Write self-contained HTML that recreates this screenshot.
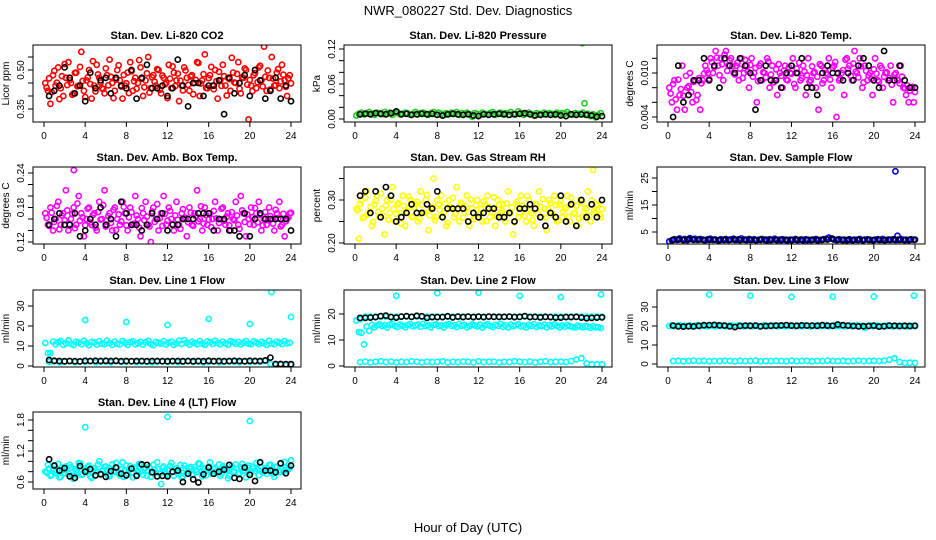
<!DOCTYPE html>
<html><head><meta charset="utf-8"><style>
html,body{margin:0;padding:0;background:#fff;}
svg{display:block;font-family:"Liberation Sans",Arial,sans-serif;}
</style></head><body>
<svg id="chart" width="936" height="540" viewBox="0 0 936 540" xmlns="http://www.w3.org/2000/svg">
<text x="468" y="15" text-anchor="middle" font-size="13">NWR_080227  Std. Dev. Diagnostics</text>
<text x="468" y="532" text-anchor="middle" font-size="13">Hour of Day (UTC)</text>
</svg>
<script>
const co2Red=[0.45,0.42,0.37,0.48,0.44,0.51,0.43,0.40,0.47,0.53,0.45,0.41,0.49,0.44,0.57,0.42,0.46,0.50,0.39,0.44,0.52,0.47,0.43,0.41,0.48,0.54,0.45,0.42,0.50,0.46,0.39,0.44,0.49,0.53,0.42,0.47,0.45,0.51,0.40,0.46,0.55,0.43,0.48,0.44,0.50,0.41,0.47,0.45,0.52,0.43,0.49,0.46,0.38,0.44,0.51,0.47,0.42,0.48,0.45,0.53,0.40,0.46,0.56,0.43,0.48,0.44,0.50,0.39,0.46,0.52,0.44,0.47,0.42,0.49,0.45,0.53,0.41,0.47,0.50,0.31,0.44,0.48,0.43,0.51,0.46,0.59,0.42,0.47,0.55,0.44,0.49,0.43,0.52,0.46,0.40,0.48];
const co2Red2=[0.432,0.468,0.415,0.497,0.451,0.388,0.476,0.523,0.442,0.461,0.405,0.489,0.437,0.512,0.458,0.396,0.471,0.446,0.534,0.418,0.483,0.452,0.427,0.506,0.441,0.474,0.392,0.463,0.518,0.436,0.481,0.449,0.411,0.495,0.457,0.428,0.538,0.466,0.434,0.487,0.413,0.472,0.455,0.503,0.424,0.479,0.445,0.392,0.467,0.514,0.438,0.486,0.459,0.421,0.498,0.443,0.475,0.407,0.462,0.527,0.448,0.484,0.431,0.469,0.512,0.426,0.457,0.493,0.439,0.476,0.402,0.465,0.547,0.452,0.485,0.428,0.471,0.506,0.444,0.462,0.419,0.488,0.453,0.516,0.437,0.474,0.498,0.425,0.467,0.441,0.503,0.456,0.482,0.435,0.468,0.449];
const co2Black=[0.40,0.42,0.44,0.51,0.47,0.41,0.44,0.38,0.49,0.43,0.46,0.47,0.41,0.47,0.44,0.43,0.50,0.39,0.47,0.52,0.43,0.43,0.44,0.40,0.43,0.54,0.44,0.36,0.45,0.45,0.40,0.44,0.44,0.46,0.33,0.47,0.41,0.45,0.48,0.40,0.50,0.46,0.39,0.42,0.47,0.39,0.44,0.38];
const presGreen=[0.006,0.009,0.011,0.008,0.010,0.012,0.009,0.007,0.011,0.010,0.008,0.012,0.009,0.011,0.007,0.010,0.012,0.008,0.009,0.011,0.010,0.007,0.009,0.012,0.008,0.010,0.011,0.009,0.007,0.010,0.012,0.008,0.011,0.009,0.006,0.010,0.008,0.011,0.009,0.012,0.007,0.010,0.009,0.011,0.008,0.004,0.010,0.009,0.007,0.011,0.009,0.008,0.010,0.012,0.007,0.009,0.011,0.008,0.010,0.007,0.012,0.009,0.008,0.013,0.010,0.007,0.009,0.011,0.008,0.006,0.010,0.009,0.007,0.011,0.008,0.010,0.009,0.007,0.011,0.008,0.010,0.009,0.012,0.008,0.007,0.010,0.009,0.008,0.011,0.007,0.009,0.005,0.008,0.003,0.007,0.010];
const presBlack=[0.008,0.009,0.008,0.010,0.009,0.008,0.010,0.013,0.008,0.009,0.007,0.008,0.009,0.008,0.009,0.007,0.006,0.008,0.009,0.008,0.007,0.008,0.006,0.005,0.008,0.007,0.008,0.009,0.008,0.007,0.008,0.009,0.010,0.008,0.006,0.007,0.008,0.007,0.008,0.006,0.005,0.008,0.007,0.008,0.007,0.006,0.004,0.005];
const presOutHours=[22.1,22.3];
const presOutValues=[0.13,0.027];
const tempMag=[0.008,0.006,0.009,0.005,0.007,0.011,0.005,0.008,0.010,0.006,0.009,0.007,0.005,0.009,0.011,0.010,0.012,0.010,0.013,0.011,0.012,0.009,0.013,0.011,0.012,0.010,0.011,0.009,0.012,0.010,0.011,0.008,0.012,0.010,0.006,0.011,0.009,0.010,0.012,0.008,0.011,0.009,0.007,0.010,0.008,0.011,0.009,0.010,0.012,0.008,0.010,0.009,0.011,0.007,0.012,0.009,0.010,0.008,0.005,0.011,0.009,0.010,0.012,0.008,0.011,0.004,0.009,0.010,0.007,0.012,0.011,0.009,0.013,0.010,0.012,0.008,0.011,0.009,0.010,0.007,0.012,0.009,0.011,0.008,0.010,0.009,0.011,0.006,0.010,0.009,0.011,0.008,0.007,0.006,0.008,0.006];
const tempMag2=[0.0072,0.0085,0.0064,0.0091,0.0078,0.0069,0.0096,0.0082,0.0074,0.0088,0.0063,0.0093,0.0086,0.0099,0.0104,0.0092,0.0115,0.0108,0.0121,0.0097,0.0112,0.0125,0.0103,0.0117,0.0109,0.0098,0.0114,0.0106,0.0093,0.0118,0.0102,0.0111,0.0095,0.0107,0.0089,0.0113,0.0101,0.0094,0.0116,0.0098,0.0087,0.0105,0.0112,0.0096,0.0103,0.0091,0.0108,0.0099,0.0085,0.0106,0.0114,0.0093,0.0102,0.0097,0.0088,0.0109,0.0101,0.0095,0.0112,0.0086,0.0104,0.0098,0.0091,0.0107,0.0115,0.0099,0.0092,0.0104,0.0118,0.0106,0.0096,0.0113,0.0102,0.0094,0.0109,0.0087,0.0103,0.0097,0.0092,0.0105,0.0099,0.0088,0.0107,0.0095,0.0101,0.0093,0.0084,0.0098,0.0091,0.0086,0.0095,0.0079,0.0083,0.0076,0.0081,0.0074];
const tempBlack=[0.004,0.011,0.006,0.007,0.009,0.009,0.012,0.009,0.011,0.008,0.012,0.011,0.010,0.012,0.011,0.010,0.005,0.009,0.011,0.009,0.009,0.008,0.010,0.011,0.010,0.012,0.008,0.008,0.007,0.010,0.011,0.010,0.010,0.009,0.010,0.009,0.011,0.012,0.011,0.009,0.008,0.013,0.009,0.009,0.011,0.009,0.008,0.008];
const boxMag=[0.17,0.15,0.18,0.14,0.16,0.19,0.15,0.17,0.21,0.14,0.16,0.18,0.15,0.20,0.17,0.13,0.16,0.18,0.15,0.17,0.14,0.19,0.16,0.21,0.15,0.17,0.14,0.18,0.16,0.15,0.19,0.17,0.14,0.18,0.15,0.20,0.16,0.13,0.17,0.19,0.15,0.12,0.18,0.16,0.14,0.17,0.20,0.15,0.18,0.16,0.14,0.19,0.15,0.17,0.16,0.13,0.18,0.15,0.17,0.21,0.16,0.14,0.18,0.15,0.17,0.16,0.19,0.14,0.16,0.18,0.15,0.17,0.14,0.16,0.19,0.15,0.20,0.17,0.13,0.16,0.18,0.15,0.17,0.19,0.14,0.16,0.15,0.18,0.16,0.14,0.17,0.19,0.15,0.13,0.16,0.17];
const boxMag2=[0.162,0.148,0.171,0.155,0.183,0.142,0.166,0.158,0.175,0.151,0.169,0.144,0.187,0.157,0.163,0.149,0.178,0.154,0.167,0.145,0.172,0.159,0.184,0.147,0.165,0.153,0.176,0.141,0.168,0.156,0.181,0.149,0.163,0.172,0.152,0.166,0.145,0.179,0.158,0.164,0.147,0.173,0.155,0.186,0.161,0.148,0.169,0.157,0.174,0.151,0.166,0.159,0.143,0.177,0.162,0.154,0.171,0.148,0.165,0.156,0.182,0.152,0.167,0.159,0.146,0.174,0.161,0.153,0.178,0.157,0.164,0.149,0.172,0.158,0.166,0.143,0.175,0.155,0.168,0.151,0.163,0.179,0.154,0.167,0.149,0.172,0.158,0.165,0.152,0.176,0.161,0.147,0.169,0.156,0.163,0.171];
const boxOutHours=[2.9];
const boxOutValues=[0.245];
const boxBlack=[0.15,0.16,0.17,0.15,0.15,0.17,0.13,0.14,0.16,0.15,0.18,0.15,0.16,0.13,0.19,0.17,0.15,0.15,0.14,0.15,0.17,0.16,0.17,0.14,0.15,0.15,0.16,0.16,0.16,0.17,0.17,0.17,0.14,0.16,0.16,0.14,0.14,0.13,0.17,0.13,0.16,0.17,0.16,0.16,0.16,0.16,0.16,0.14];
const rhYellow=[0.28,0.21,0.30,0.26,0.32,0.27,0.24,0.29,0.31,0.26,0.28,0.22,0.30,0.27,0.33,0.25,0.29,0.27,0.31,0.24,0.28,0.30,0.26,0.29,0.25,0.32,0.27,0.30,0.23,0.28,0.35,0.26,0.29,0.31,0.27,0.24,0.30,0.28,0.26,0.33,0.25,0.29,0.27,0.31,0.24,0.28,0.26,0.30,0.27,0.25,0.29,0.31,0.26,0.28,0.24,0.30,0.27,0.29,0.25,0.32,0.27,0.22,0.29,0.26,0.31,0.28,0.25,0.30,0.27,0.24,0.29,0.32,0.26,0.28,0.23,0.30,0.27,0.31,0.25,0.29,0.26,0.28,0.31,0.25,0.29,0.27,0.24,0.30,0.26,0.28,0.32,0.25,0.37,0.27,0.29,0.26];
const rhYellow2=[0.276,0.291,0.258,0.305,0.267,0.284,0.249,0.298,0.272,0.315,0.263,0.287,0.254,0.301,0.279,0.268,0.293,0.245,0.286,0.274,0.308,0.261,0.282,0.296,0.257,0.289,0.271,0.312,0.264,0.285,0.253,0.299,0.276,0.262,0.291,0.247,0.283,0.305,0.268,0.277,0.294,0.259,0.286,0.272,0.301,0.255,0.288,0.266,0.279,0.297,0.251,0.284,0.273,0.306,0.262,0.289,0.275,0.258,0.292,0.269,0.283,0.248,0.296,0.271,0.287,0.263,0.309,0.276,0.254,0.291,0.268,0.284,0.302,0.259,0.278,0.293,0.265,0.288,0.252,0.297,0.274,0.283,0.261,0.305,0.269,0.286,0.257,0.294,0.272,0.281,0.263,0.299,0.274,0.288,0.266,0.279];
const rhBlack=[0.31,0.32,0.27,0.32,0.26,0.33,0.31,0.25,0.26,0.27,0.29,0.27,0.27,0.29,0.28,0.32,0.26,0.28,0.28,0.28,0.28,0.25,0.27,0.26,0.27,0.28,0.28,0.26,0.26,0.27,0.25,0.28,0.28,0.29,0.28,0.26,0.24,0.27,0.26,0.31,0.25,0.29,0.24,0.30,0.26,0.29,0.26,0.30];
const sampleBlue=[1.5,1.9,2.3,2.1,2.6,2.2,2.4,2.0,2.7,2.3,2.5,2.1,2.4,2.2,2.0,2.3,2.5,2.1,2.2,1.9,2.3,2.1,2.4,2.0,2.2,2.5,2.1,2.3,2.6,2.2,2.0,2.4,2.1,2.3,2.0,2.2,2.4,2.1,1.9,2.3,2.2,2.5,2.0,2.2,2.3,2.1,1.9,2.2,2.1,2.4,2.0,2.2,1.9,2.3,2.1,2.0,2.2,2.4,2.0,2.1,2.3,2.5,2.9,2.6,2.2,2.0,2.3,2.1,2.2,1.9,2.3,2.0,2.2,2.1,2.4,2.0,2.2,2.3,2.1,2.0,2.2,2.3,2.1,2.4,2.0,2.2,2.1,2.3,2.0,2.2,2.4,2.1,2.2,2.0,2.3,2.1];
const sampleOutHours=[22.1,22.3];
const sampleOutValues=[27.5,3.6];
const sampleBlack=[2.1,2.2,2.0,2.3,2.1,2.2,2.0,2.1,2.2,2.0,2.1,2.2,2.1,2.0,2.2,2.1,2.0,2.1,2.2,2.0,2.1,2.0,2.1,2.0,2.1,2.2,2.0,2.1,2.0,2.1,2.2,2.5,2.1,2.0,2.1,2.0,2.1,2.0,2.1,2.0,2.1,2.0,2.1,2.2,2.1,2.0,2.1,2.2];
const l1Main=[11.5,6.5,6.5,12.2,10.8,11.9,12.5,10.6,11.4,12.8,11.0,10.5,12.1,11.7,10.9,12.6,11.3,10.4,12.0,11.8,10.7,12.4,11.2,10.9,12.7,11.5,10.6,12.2,11.1,10.8,12.5,11.6,10.5,11.9,12.3,10.9,11.4,12.1,10.7,11.8,12.6,11.0,10.4,12.0,11.5,11.2,12.4,10.8,11.7,12.2,10.6,11.3,12.7,11.0,12.9,11.6,10.7,12.1,11.4,10.9,12.5,11.2,10.6,12.3,11.8,11.0,12.6,11.5,10.8,12.2,11.3,10.7,12.4,11.9,11.1,12.0,10.8,11.6,12.5,11.2,10.9,12.3,11.7,11.0,12.1,11.4,10.6,12.6,11.3,10.9,12.2,11.7,11.0,12.4,11.3,11.6];
const l1Low=[2.0,2.3,1.8,2.1,2.4,1.9,2.2,2.0,2.3,1.8,2.1,2.2,1.9,2.4,2.0,2.1,2.3,1.9,2.2,2.0,1.8,2.1,2.3,2.0,2.2,1.9,2.1,2.4,2.0,2.2,1.8,2.1,2.3,1.9,2.0,2.2,2.1,1.9,2.3,2.0,2.2,2.1,2.5,1.0,0.5,0.6,0.5,0.6];
const l1Black=[3.0,2.6,2.5,2.4,2.5,2.4,2.3,2.6,2.5,2.6,2.5,2.6,2.5,2.6,2.4,2.5,2.4,2.5,2.5,2.4,2.5,2.5,2.4,2.4,2.5,2.5,2.4,2.5,2.4,2.5,2.4,2.6,2.4,2.5,2.4,2.5,2.6,2.5,2.4,2.6,2.5,2.5,2.8,4.2,1.0,1.0,0.9,0.9];
const l1OutHours=[4,8,12,16,20,22.1,24];
const l1OutValues=[23,22,20.5,23.5,21,37,24.5];
const l2Upper=[18,19,19,19,19,19,19,19,19,19,19,19,19,19,19,19,19,19,19,19,19,19,19,19,19,19,19,19,19,19,19,19,19,19,19,19,19,19,19,19,19,19,19,19,19,19,19,19];
const l2Mid=[17.5,13.0,12.8,8.3,15.2,13.5,15.8,14.9,15.6,16.1,15.3,15.7,14.8,15.9,16.2,15.4,15.0,16.0,15.5,14.9,15.8,16.1,15.2,15.6,15.9,15.1,16.2,15.4,15.7,14.9,15.8,16.0,15.3,15.6,14.8,15.9,16.1,15.4,15.7,15.0,16.2,15.5,15.8,14.9,15.3,16.0,15.6,15.2,15.9,14.8,15.7,16.1,15.4,15.0,15.8,15.5,16.2,15.1,15.6,14.9,15.9,15.3,15.7,16.0,15.2,15.5,14.8,15.8,15.4,16.1,15.0,15.6,15.3,15.9,14.9,15.7,15.2,16.0,15.4,14.8,15.6,15.1,15.8,15.3,15.0,14.8,15.5,15.2,14.9,15.4,15.1,14.7,15.3,14.9,15.0,14.6];
const l2Low=[1.5,1.7,1.4,1.6,1.8,1.5,1.7,1.4,1.6,1.5,1.8,1.6,1.4,1.7,1.5,1.6,1.8,1.4,1.6,1.5,1.7,1.6,1.4,1.8,1.5,1.6,1.7,1.4,1.6,1.5,1.8,1.6,1.5,1.7,1.4,1.6,1.8,1.5,1.6,1.7,1.5,1.9,2.5,3.0,1.0,0.6,0.7,0.6];
const l2Black=[18.5,18.5,18.6,18.8,19.2,19.4,18.8,18.6,19.0,19.2,18.9,19.3,19.1,18.5,18.8,18.8,18.8,19.1,18.7,19.0,18.8,19.0,18.8,19.0,18.8,19.0,18.9,18.9,18.9,19.0,18.8,18.9,19.2,18.8,18.9,18.7,18.9,18.8,18.6,18.6,18.8,18.8,18.9,18.6,18.4,18.5,18.6,18.7];
const l2OutHours=[4,8,12,16,20,23.9];
const l2OutValues=[27,28,28.2,27,26.5,27.5];
const l3Upper=[20.0,20.3,19.8,20.1,20.4,19.9,20.2,20.0,20.3,19.7,20.1,20.4,19.9,20.2,20.0,19.8,20.3,20.1,19.9,20.4,20.0,20.2,19.8,20.1,20.3,19.9,20.0,20.4,20.2,19.8,20.1,20.3,19.9,20.0,20.2,19.7,20.1,20.4,19.9,20.2,20.0,20.3,19.8,20.1,20.2,19.9,20.0,20.3,20.1,19.8,20.2,20.0,19.9,20.3,20.1,19.7,20.2,20.0,20.4,19.9,20.1,20.3,19.8,20.0,20.2,19.9,20.1,20.3,19.8,20.0,20.2,19.9,20.1,20.4,19.8,20.0,19.1,20.1,20.3,19.9,20.0,20.2,19.8,20.1,19.9,20.3,20.0,19.7,20.2,19.9,20.0,20.1,19.8,20.0,19.9,20.1];
const l3Low=[1.5,1.7,1.4,1.6,1.8,1.5,1.7,1.4,1.6,1.5,1.8,1.6,1.4,1.7,1.5,1.6,1.8,1.4,1.6,1.5,1.7,1.6,1.4,1.8,1.5,1.6,1.7,1.4,1.6,1.5,1.8,1.6,1.5,1.7,1.4,1.6,1.8,1.5,1.6,1.7,1.5,1.8,2.2,3.0,1.0,0.6,0.7,0.6];
const l3Black=[20.2,19.8,19.7,19.9,19.8,20.1,20.4,20.5,20.6,20.3,20.2,19.8,19.4,20.0,20.2,20.1,20.2,19.8,20.0,20.1,20.2,20.3,20.5,20.2,20.1,20.3,20.2,20.2,20.1,20.4,20.2,20.1,20.8,20.4,20.2,20.0,19.8,19.9,20.0,20.2,19.7,19.9,20.2,20.1,20.0,20.1,20.0,20.1];
const l3OutHours=[4,8,12,16,20,23.9];
const l3OutValues=[36.5,36,35.3,35.5,35.5,36];
const l4Cyan=[0.80,0.93,0.72,0.86,0.78,0.95,0.70,0.84,0.90,0.76,0.88,0.66,0.82,0.97,0.74,0.87,0.79,0.92,0.68,0.85,0.81,1.00,0.75,0.89,0.83,0.71,0.94,0.80,0.87,0.73,0.98,0.82,0.77,0.91,0.69,0.86,0.80,0.95,0.74,0.88,0.82,0.70,0.93,0.79,0.85,0.56,0.90,0.76,0.84,0.97,0.72,0.87,0.81,0.68,0.92,0.78,0.86,0.74,0.89,0.80,0.95,0.71,0.85,0.83,0.98,0.76,0.88,0.79,0.72,0.91,0.84,0.67,0.87,0.80,0.94,0.75,0.89,0.82,0.69,0.92,0.78,0.86,0.97,0.73,0.88,0.81,0.76,0.93,0.84,0.70,0.90,0.79,0.86,0.99,0.82,0.88];
const l4Cyan2=[0.78,0.86,0.74,0.91,0.82,0.69,0.88,0.77,0.84,0.93,0.72,0.85,0.79,0.96,0.75,0.83,0.89,0.71,0.87,0.80,0.94,0.76,0.84,0.90,0.73,0.86,0.81,0.97,0.77,0.85,0.70,0.92,0.83,0.78,0.88,0.74,0.95,0.81,0.86,0.72,0.89,0.79,0.84,0.98,0.76,0.87,0.82,0.73,0.91,0.80,0.85,0.77,0.93,0.71,0.86,0.82,0.89,0.75,0.84,0.96,0.79,0.87,0.73,0.90,0.81,0.85,0.78,0.94,0.76,0.88,0.83,0.72,0.91,0.80,0.86,0.77,0.95,0.82,0.88,0.74,0.90,0.81,0.85,0.99,0.78,0.87,0.83,0.93,0.76,0.89,0.82,0.97,0.80,0.88,0.85,1.02];
const l4OutHours=[4,12,20];
const l4OutValues=[1.66,1.86,1.78];
const l4Black=[1.04,0.92,0.82,0.87,0.71,0.68,0.91,0.80,0.85,0.73,0.75,0.70,0.81,0.88,0.76,0.73,0.86,0.72,0.94,0.93,0.79,0.71,0.72,0.71,0.80,0.82,0.60,0.76,0.65,0.59,0.75,0.88,0.76,0.80,0.84,0.93,0.68,0.66,0.88,0.74,0.62,0.98,0.82,0.82,0.79,0.96,0.77,0.92];

const svg=document.getElementById('chart');
const NS='http://www.w3.org/2000/svg';
function mk(tag,attrs,parent){const e=document.createElementNS(NS,tag);for(const k in attrs)e.setAttribute(k,attrs[k]);(parent||svg).appendChild(e);return e;}

const colLeft=[33,344,657], rowTop=[45,167,290,412], W=268, H=77;
const hourTicks=[0,4,8,12,16,20,24];

const panels=[
 {name:'co2',title:'Stan. Dev. Li-820 CO2',ylab:'Licor ppm',c:0,r:0,v1:0.35,y1:109,v2:0.50,y2:70,ticks:[0.35,0.40,0.45,0.50,0.55],labels:['0.35','','','0.50',''],
  series:[{v:co2Red,col:'#ff0000'},{v:co2Red2,col:'#ff0000',off:0.125},{v:co2Black,col:'#000'}]},
 {name:'pressure',title:'Stan. Dev. Li-820 Pressure',ylab:'kPa',c:1,r:0,v1:0,y1:119,v2:0.12,y2:49,ticks:[0,0.02,0.04,0.06,0.08,0.10,0.12],labels:['0.00','','','0.06','','','0.12'],
  series:[{v:presGreen,col:'#22cc22'},{v:presBlack,col:'#000'},{h:presOutHours,v:presOutValues,col:'#22cc22'}]},
 {name:'li820-temp',title:'Stan. Dev. Li-820 Temp.',ylab:'degrees C',c:2,r:0,v1:0.004,y1:117,v2:0.010,y2:73,ticks:[0.004,0.006,0.008,0.010,0.012],labels:['0.004','','','0.010',''],
  series:[{v:tempMag,col:'#ff00ff'},{v:tempMag2,col:'#ff00ff',off:0.125},{v:tempBlack,col:'#000'}]},
 {name:'amb-box-temp',title:'Stan. Dev. Amb. Box Temp.',ylab:'degrees C',c:0,r:1,v1:0.12,y1:242,v2:0.24,y2:173,ticks:[0.12,0.14,0.16,0.18,0.20,0.22,0.24],labels:['0.12','','','0.18','','','0.24'],
  series:[{v:boxMag,col:'#ff00ff'},{v:boxMag2,col:'#ff00ff',off:0.125},{h:boxOutHours,v:boxOutValues,col:'#ff00ff'},{v:boxBlack,col:'#000'}]},
 {name:'gas-rh',title:'Stan. Dev. Gas Stream RH',ylab:'percent',c:1,r:1,v1:0.20,y1:243,v2:0.30,y2:200,ticks:[0.20,0.25,0.30,0.35],labels:['0.20','','0.30',''],
  series:[{v:rhYellow,col:'#ffff00'},{v:rhYellow2,col:'#ffff00',off:0.125},{v:rhBlack,col:'#000'}]},
 {name:'sample-flow',title:'Stan. Dev. Sample Flow',ylab:'ml/min',c:2,r:1,v1:5,y1:232,v2:25,y2:178,ticks:[5,10,15,20,25],labels:['5','','15','','25'],
  series:[{v:sampleBlue,col:'#0000ff'},{h:sampleOutHours,v:sampleOutValues,col:'#0000ff'},{v:sampleBlack,col:'#000'}]},
 {name:'line1-flow',title:'Stan. Dev. Line 1 Flow',ylab:'ml/min',c:0,r:2,v1:0,y1:366,v2:30,y2:306,ticks:[0,10,20,30],labels:['0','10','20','30'],
  series:[{v:l1Main,col:'#00ffff'},{v:l1Low,col:'#00ffff'},{h:l1OutHours,v:l1OutValues,col:'#00ffff'},{v:l1Black,col:'#000'}]},
 {name:'line2-flow',title:'Stan. Dev. Line 2 Flow',ylab:'ml/min',c:1,r:2,v1:0,y1:366,v2:20,y2:314,ticks:[0,10,20],labels:['0','10','20'],
  series:[{v:l2Upper,col:'#00ffff'},{v:l2Mid,col:'#00ffff'},{v:l2Low,col:'#00ffff'},{h:l2OutHours,v:l2OutValues,col:'#00ffff'},{v:l2Black,col:'#000'}]},
 {name:'line3-flow',title:'Stan. Dev. Line 3 Flow',ylab:'ml/min',c:2,r:2,v1:0,y1:364,v2:30,y2:307,ticks:[0,10,20,30],labels:['0','10','20','30'],
  series:[{v:l3Upper,col:'#00ffff'},{v:l3Low,col:'#00ffff'},{h:l3OutHours,v:l3OutValues,col:'#00ffff'},{v:l3Black,col:'#000'}]},
 {name:'line4-flow',title:'Stan. Dev. Line 4 (LT) Flow',ylab:'ml/min',c:0,r:3,v1:0.6,y1:482,v2:1.8,y2:420,ticks:[0.6,0.8,1.0,1.2,1.4,1.6,1.8],labels:['0.6','','','1.2','','','1.8'],
  series:[{v:l4Cyan,col:'#00ffff'},{v:l4Cyan2,col:'#00ffff',off:0.125},{h:l4OutHours,v:l4OutValues,col:'#00ffff'},{v:l4Black,col:'#000'}]}
];

panels.forEach(p=>{
  const L=colLeft[p.c], T=rowTop[p.r];
  const xs=h=>L+11+h*(247/24);
  const ys=v=>p.y1+(v-p.v1)*(p.y2-p.y1)/(p.v2-p.v1);
  const g=mk('g',{});
  
  
  const clip=mk('clipPath',{id:'clip-'+p.name},g);
  mk('rect',{x:L,y:T,width:W,height:H},clip);
  const pts=mk('g',{'clip-path':'url(#clip-'+p.name+')'},g);
  
  
  p.series.forEach(s=>{
    const n=s.v.length, off=s.off||0;
    s.v.forEach((val,i)=>{
      const h=s.h?s.h[i]:(n===48?(i+1)*0.5:(i+0.5)*24/n+off);
      const c=mk('circle',{cx:xs(h).toFixed(1),cy:ys(val).toFixed(1),r:2.6,fill:'none',stroke:s.col,'stroke-width':1.6},pts);
      
      
    });
  });
  const box=mk('rect',{x:L,y:T,width:W,height:H,fill:'none',stroke:'#000','stroke-width':1},g);
  
  
  const t=mk('text',{x:L+W/2,y:T-6,'text-anchor':'middle','font-size':11,'font-weight':'bold'},g);
  t.textContent=p.title;
  
  
  hourTicks.forEach(h=>{
    mk('line',{x1:xs(h),x2:xs(h),y1:T+H,y2:T+H+5,stroke:'#000'},g);
    const lb=mk('text',{x:xs(h),y:T+H+17,'text-anchor':'middle','font-size':10},g);
    lb.textContent=h;
    
    
  });
  p.ticks.forEach((v,i)=>{
    const y=ys(v);
    mk('line',{x1:L-5,x2:L,y1:y,y2:y,stroke:'#000'},g);
    if(p.labels[i]){
      const lb=mk('text',{x:L-9,y:y,'text-anchor':'middle','font-size':10,transform:'rotate(-90 '+(L-9)+' '+y+')'},g);
      lb.textContent=p.labels[i];
      
      
    }
  });
  const yl=mk('text',{x:L-24,y:T+H/2,'text-anchor':'middle','font-size':10,transform:'rotate(-90 '+(L-24)+' '+(T+H/2)+')'},g);
  yl.textContent=p.ylab;
  
  
});
</script>
</body></html>
